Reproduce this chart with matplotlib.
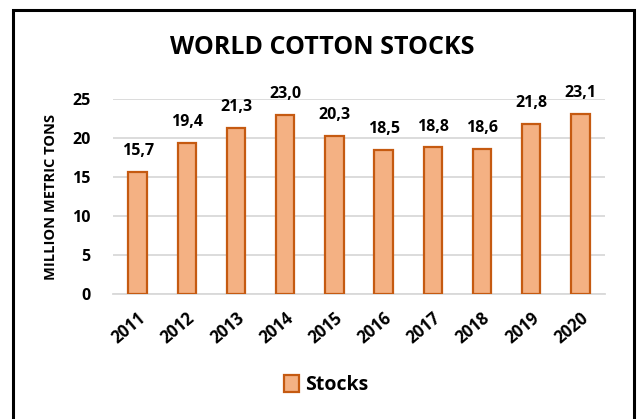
import matplotlib
matplotlib.use("Agg")
import matplotlib.pyplot as plt
from matplotlib.patches import Rectangle

# data
years = ["2011", "2012", "2013", "2014", "2015", "2016", "2017", "2018", "2019", "2020"]
stocks = [15.7, 19.4, 21.3, 23.0, 20.3, 18.5, 18.8, 18.6, 21.8, 23.1]
y_ticks = [0, 5, 10, 15, 20, 25]

plt.rcParams['font.family'] = ['Open Sans', 'DejaVu Sans']
plt.rcParams['font.weight'] = 'bold'

fig = plt.figure(figsize=(6.42, 4.19), dpi=100)
W, H = 642, 419

# outer black frame (open at the bottom edge of the picture)
fig.patches.append(Rectangle((13 / W, -0.02), (634 - 13) / W, (419 - 10) / H + 0.02,
                             transform=fig.transFigure, fill=False,
                             edgecolor='black', linewidth=2.2))

ax = fig.add_axes([113 / W, 1 - 294 / H, (605 - 113) / W, (294 - 99) / H])

x = range(len(years))
bars = ax.bar(x, stocks, width=0.37, color='#F4B183', edgecolor='#C55A11',
              linewidth=1.6, label='Stocks', zorder=3)

for xi, v in zip(x, stocks):
    ax.text(xi, v + 1.6, f"{v:.1f}".replace('.', ','), ha='center', va='bottom',
            fontsize=11.5, fontweight='bold')

ax.set_xlim(-0.5, len(years) - 0.5)
ax.set_ylim(0, 25)
ax.set_yticks(y_ticks)
ax.set_yticklabels([str(t) for t in y_ticks], fontsize=11.5, fontweight='bold')
ax.set_xticks(list(x))
ax.set_xticklabels(years, rotation=40, ha='right', rotation_mode='anchor',
                   fontsize=12, fontweight='bold')
ax.tick_params(axis='x', length=0, pad=11)
ax.tick_params(axis='y', length=0, pad=16)

ax.grid(True, axis='y', color='#D9D9D9', linewidth=1.3, zorder=0)
for side in ['top', 'right', 'left']:
    ax.spines[side].set_visible(False)
ax.spines['bottom'].set_color('#D9D9D9')
ax.spines['bottom'].set_linewidth(1.3)

ax.set_ylabel("MILLION METRIC TONS", fontsize=10.5, fontweight='bold', labelpad=10)

fig.text(322 / W, 1 - 48 / H, "WORLD COTTON STOCKS", ha='center', va='center',
         fontsize=18, fontweight='bold')

leg = fig.legend(handles=[bars], labels=['Stocks'], loc='center',
                 bbox_to_anchor=(326 / W, 1 - 385 / H), frameon=False,
                 prop={'size': 14, 'weight': 'bold'}, handlelength=0.8,
                 handleheight=1.0, handletextpad=0.3)

fig.savefig("out.png", dpi=100, facecolor='white')
